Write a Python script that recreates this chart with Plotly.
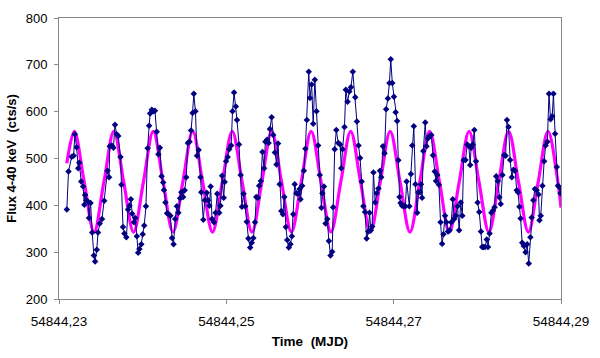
import plotly.graph_objects as go

# Time offsets (seconds after MJD 54844.23) and flux values
time_s = [81, 98, 131, 151, 164, 182, 199, 209, 229, 249, 262, 269, 282, 303, 310, 326, 343, 360, 373, 390,
          403, 421, 444, 467, 501, 517, 524, 545, 562, 578, 595, 612, 635, 645, 661, 676, 696, 713, 729, 742,
          756, 774, 787, 804, 817, 830, 850, 864, 880, 898, 915, 931, 941, 958, 975, 991, 1009, 1026, 1042, 1059,
          1076, 1084, 1099, 1116, 1133, 1150, 1167, 1183, 1200, 1217, 1233, 1251, 1264, 1281, 1298, 1314, 1331, 1348, 1364, 1379,
          1392, 1409, 1425, 1442, 1462, 1469, 1490, 1506, 1526, 1540, 1553, 1566, 1580, 1600, 1617, 1634, 1654, 1667, 1684, 1701,
          1711, 1725, 1742, 1758, 1778, 1792, 1808, 1826, 1838, 1859, 1876, 1889, 1906, 1923, 1939, 1956, 1974, 1990, 2007, 2024,
          2037, 2054, 2067, 2085, 2101, 2118, 2131, 2148, 2165, 2178, 2196, 2212, 2229, 2246, 2262, 2279, 2296, 2312, 2327, 2343,
          2357, 2373, 2390, 2405, 2420, 2434, 2451, 2468, 2484, 2494, 2511, 2528, 2544, 2559, 2579, 2592, 2609, 2625, 2642, 2659,
          2676, 2693, 2710, 2720, 2736, 2753, 2770, 2787, 2804, 2821, 2831, 2847, 2864, 2884, 2904, 2915, 2928, 2948, 2962, 2980,
          2998, 3015, 3034, 3059, 3076, 3093, 3109, 3126, 3143, 3160, 3177, 3194, 3207, 3220, 3234, 3247, 3265, 3281, 3298, 3315,
          3328, 3345, 3361, 3378, 3396, 3412, 3426, 3442, 3459, 3476, 3492, 3504, 3517, 3527, 3543, 3563, 3577, 3590, 3618, 3634,
          3648, 3664, 3681, 3698, 3711, 3728, 3738, 3749, 3762, 3782, 3795, 3812, 3829, 3845, 3862, 3880, 3893, 3906, 3923, 3940,
          3956, 3970, 3986, 4001, 4017, 4034, 4051, 4067, 4081, 4098, 4115, 4132, 4148, 4165, 4178, 4198, 4216, 4233, 4246, 4256,
          4273, 4289, 4306, 4323, 4340, 4357, 4370, 4384, 4400, 4417, 4430, 4447, 4465, 4481, 4498, 4515, 4531, 4548, 4561, 4579,
          4596, 4612, 4626, 4642, 4659, 4676, 4693, 4710, 4727, 4740, 4755, 4767, 4783, 4800, 4818, 4834, 4851, 4868, 4881, 4898,
          4914, 4932, 4952, 4962, 4975, 4992, 5010, 5025, 5043, 5060, 5076, 5093, 5106, 5123, 5140, 5153, 5170, 5178]

flux = [391, 472, 504, 506, 552, 524, 479, 491, 451, 440, 401, 422, 411, 407, 373, 405, 342, 293, 280, 305,
        342, 361, 371, 410, 474, 460, 526, 528, 523, 572, 552, 548, 503, 444, 354, 340, 332, 391, 399, 413,
        382, 364, 373, 334, 299, 307, 317, 338, 357, 398, 522, 570, 596, 604, 601, 602, 557, 509, 523, 462,
        449, 433, 406, 383, 381, 378, 330, 317, 371, 398, 384, 415, 428, 418, 432, 460, 533, 536, 560, 597,
        638, 601, 506, 518, 460, 428, 369, 411, 427, 411, 399, 440, 371, 364, 384, 425, 384, 399, 463, 416,
        450, 494, 503, 520, 528, 601, 641, 611, 582, 530, 465, 397, 425, 398, 365, 329, 310, 320, 330, 364,
        418, 416, 442, 452, 514, 479, 536, 540, 533, 563, 588, 550, 513, 487, 532, 445, 388, 381, 418, 354,
        326, 310, 317, 334, 381, 445, 426, 425, 435, 413, 442, 474, 521, 582, 685, 629, 658, 574, 668, 601,
        528, 465, 395, 426, 440, 361, 371, 324, 293, 301, 396, 520, 561, 533, 530, 479, 520, 567, 647, 621,
        643, 652, 685, 631, 579, 528, 501, 451, 398, 386, 329, 344, 384, 347, 355, 470, 406, 426, 436, 474,
        460, 526, 511, 605, 628, 661, 712, 661, 632, 599, 580, 496, 418, 405, 399, 398, 398, 451, 398, 467,
        528, 569, 445, 384, 428, 428, 445, 416, 516, 577, 526, 543, 548, 550, 507, 472, 452, 465, 444, 364,
        318, 338, 378, 364, 344, 347, 364, 413, 371, 378, 398, 347, 406, 378, 496, 497, 530, 526, 486, 523,
        530, 561, 494, 406, 386, 344, 311, 311, 311, 327, 311, 340, 384, 389, 396, 462, 452, 417, 403, 465,
        507, 506, 582, 567, 497, 460, 476, 474, 432, 428, 397, 372, 320, 313, 300, 317, 276, 332, 374, 411,
        435, 432, 423, 368, 378, 442, 494, 528, 536, 638, 584, 590, 638, 553, 482, 442, 438, 426]

# Fitted sinusoid: peaks, troughs and mid-crossings
fit_time_s = [81, 158, 260, 362, 464, 566, 668, 770, 872, 973, 1075, 1177, 1279, 1381, 1483, 1585, 1687,
              1789, 1891, 1993, 2095, 2196, 2298, 2400, 2502, 2604, 2706, 2808, 2910, 3012, 3114, 3216,
              3318, 3420, 3522, 3624, 3726, 3827, 3929, 4031, 4133, 4235, 4337, 4439, 4541, 4643, 4745,
              4847, 4949, 5050, 5152, 5184]
fit_flux = [490, 558, 450, 343, 450, 558, 450, 343, 450, 558, 450, 343, 450, 558, 450, 343, 450,
            558, 450, 343, 450, 558, 450, 343, 450, 558, 450, 343, 450, 558, 450, 343,
            450, 558, 450, 343, 450, 558, 450, 343, 450, 558, 450, 343, 450, 558, 450,
            343, 450, 558, 450, 395]

T0 = 54844.23
x_tick_vals = [54844.23, 54844.25, 54844.27, 54844.29]
x_tick_text = ["54844,23", "54844,25", "54844,27", "54844,29"]

mjd = [T0 + t / 86400.0 for t in time_s]
fit_mjd = [T0 + t / 86400.0 for t in fit_time_s]

fig = go.Figure()
fig.add_trace(go.Scatter(
    x=fit_mjd, y=fit_flux, mode="lines",
    line=dict(color="#FF00FF", width=3.2, shape="spline", smoothing=1.0),
    showlegend=False, hoverinfo="skip"))
fig.add_trace(go.Scatter(
    x=mjd, y=flux, mode="lines+markers",
    line=dict(color="#000080", width=1),
    marker=dict(symbol="diamond", size=5, color="#000080"),
    showlegend=False))

fam = "Liberation Sans, Arial, sans-serif"
tick_font_x = dict(family=fam, size=13.5, color="#000000")
tick_font_y = dict(family=fam, size=13, color="#000000")
title_font_x = dict(family=fam, size=13.5, color="#000000")
title_font_y = dict(family=fam, size=13, color="#000000")

fig.update_layout(
    width=600, height=358,
    margin=dict(l=55, r=30, t=11, b=51),
    paper_bgcolor="white", plot_bgcolor="white",
    font=dict(family=fam, size=13, color="#000000"),
    xaxis=dict(
        range=[54844.23, 54844.29], tickvals=x_tick_vals, ticktext=x_tick_text,
        showgrid=False, zeroline=False, showline=True, mirror=True,
        linecolor="#888888", linewidth=1, ticks="outside", ticklen=4, tickcolor="#888888",
        tickfont=tick_font_x, ticklabelstandoff=6,
        title=dict(text="<b>Time  (MJD)</b>", font=title_font_x, standoff=8)),
    yaxis=dict(
        range=[200, 800], dtick=100, tick0=200,
        showgrid=False, zeroline=False, showline=True, mirror=True,
        linecolor="#888888", linewidth=1, ticks="outside", ticklen=4, tickcolor="#888888",
        tickfont=tick_font_y, ticklabelstandoff=4,
        title=dict(text="<b>Flux 4-40 keV  (cts/s)</b>", font=title_font_y, standoff=6)),
)

fig.write_html("out.html", config={"displayModeBar": False},
               post_script="document.body.style.margin='0';document.body.style.padding='0';")
